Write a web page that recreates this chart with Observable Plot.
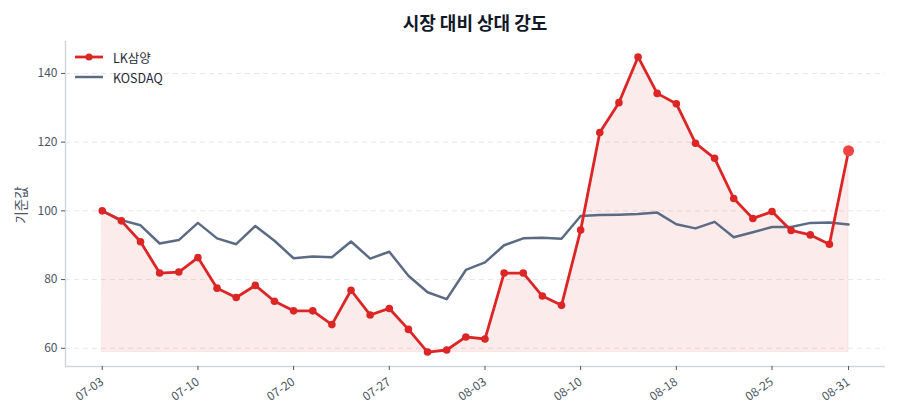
<!DOCTYPE html>
<html>
<head>
<meta charset="utf-8">
<script src="https://cdn.jsdelivr.net/npm/d3@7"></script>
<script src="https://cdn.jsdelivr.net/npm/@observablehq/plot@0.6"></script>
<style>
  body { margin: 0; background: #fff; font-family: "Noto Sans CJK KR", "Noto Sans", sans-serif; }
  #wrap { position: relative; width: 900px; height: 420px; }
  #title { position: absolute; left: 65px; width: 820px; top: 0; height: 40px; line-height: 44px; text-align: center; font-size: 18px; font-weight: 700; color: #111827; }
  #chart { position: absolute; left: 0; top: 40px; }
  #chart svg text { font-size: 12px !important; }
  #legend { position: absolute; left: 75px; top: 47px; font-size: 12.5px; color: #1f2937; }
  .item { display: flex; align-items: center; height: 20px; }
  .item svg { margin-right: 10px; }
  #ylabel { position: absolute; left: 20px; top: 205px; transform: translate(-50%, -50%) rotate(-90deg); font-size: 13.5px; color: #4b5563; white-space: nowrap; }
</style>
</head>
<body>
<div id="wrap">
  <div id="title">시장 대비 상대 강도</div>
  <div id="chart"></div>
  <div id="ylabel">기준값</div>
  <div id="legend">
    <div class="item"><svg width="28" height="10"><line x1="0" y1="5" x2="28" y2="5" stroke="#dc2626" stroke-width="2.8"/><circle cx="14" cy="5" r="3.6" fill="#dc2626"/></svg>LK삼양</div>
    <div class="item"><svg width="28" height="10"><line x1="0" y1="5" x2="28" y2="5" stroke="#5b6b84" stroke-width="2.5"/></svg>KOSDAQ</div>
  </div>
</div>
<script>
const dates = ["07-03","07-04","07-05","07-06","07-07","07-10","07-11","07-12","07-13","07-14",
  "07-20","07-21","07-24","07-25","07-26","07-27","07-28","07-31","08-01","08-02",
  "08-03","08-04","08-07","08-08","08-09","08-10","08-11","08-14","08-16","08-17",
  "08-18","08-21","08-22","08-23","08-24","08-25","08-28","08-29","08-30","08-31"];
const stockName = "LK삼양";
const indexName = "KOSDAQ";
const stockValues = [100, 97.1, 91.0, 81.9, 82.2, 86.4, 77.5, 74.8, 78.3, 73.7,
  70.9, 70.9, 66.9, 76.9, 69.7, 71.6, 65.5, 58.9, 59.5, 63.3,
  62.7, 81.9, 81.9, 75.2, 72.5, 94.4, 122.8, 131.5, 144.8, 134.2,
  131.2, 119.7, 115.3, 103.6, 97.8, 99.8, 94.3, 93.0, 90.3, 117.5];
const indexValues = [100, 97.3, 95.8, 90.5, 91.5, 96.5, 92.0, 90.3, 95.6, 91.3,
  86.2, 86.7, 86.5, 91.1, 86.1, 88.1, 81.1, 76.3, 74.3, 82.8,
  85.0, 90.0, 92.0, 92.2, 91.9, 98.5, 98.8, 98.9, 99.1, 99.5,
  96.1, 94.9, 96.8, 92.3, 93.8, 95.3, 95.3, 96.5, 96.6, 96.0];
const tickIdx = [0, 5, 10, 15, 20, 25, 30, 35, 39];
const yTicks = [60, 80, 100, 120, 140];

const stock = stockValues.map((v, i) => ({i, date: dates[i], v}));
const kosdaq = indexValues.map((v, i) => ({i, date: dates[i], v}));
const base = d3.min(stockValues);
const last = stock[stock.length - 1];

const xDomain = [-1.92, dates.length - 1 + 1.93];
const yDomain = [54.7, 149.3];

const chart = Plot.plot({
  width: 900,
  height: 380,
  marginLeft: 65,
  marginRight: 15,
  marginTop: 1,
  marginBottom: 54,
  style: {fontFamily: '"Noto Sans CJK KR", "Noto Sans", sans-serif', fontSize: "12px", color: "#4b5563", background: "#fff"},
  x: {type: "linear", domain: xDomain},
  y: {domain: yDomain},
  marks: [
    Plot.gridY(yTicks, {stroke: "#e5e7eb", strokeOpacity: 1, strokeDasharray: "5,4", strokeWidth: 1}),
    Plot.areaY(stock, {x: "i", y1: base, y2: "v", fill: "#dc2626", fillOpacity: 0.09, stroke: "#dc2626", strokeOpacity: 0.08}),
    Plot.ruleX([xDomain[0]], {stroke: "#d1d5db", strokeWidth: 1.5}),
    Plot.ruleY([yDomain[0]], {stroke: "#d1d5db", strokeWidth: 1.5}),
    Plot.axisY({ticks: yTicks, tickSize: 4, tickPadding: 4, color: "#4b5563", label: null}),
    Plot.axisX({ticks: tickIdx, tickFormat: (d) => dates[d], tickSize: 4, tickPadding: 10, tickRotate: -35,
      color: "#4b5563", label: null}),
    Plot.line(kosdaq, {x: "i", y: "v", stroke: "#5b6b84", strokeWidth: 2.5}),
    Plot.line(stock, {x: "i", y: "v", stroke: "#dc2626", strokeWidth: 2.8}),
    Plot.dot(stock.slice(0, -1), {x: "i", y: "v", r: 3.8, fill: "#dc2626"}),
    Plot.dot([last], {x: "i", y: "v", r: 5.5, fill: "#ef4444"})
  ]
});
document.getElementById("chart").appendChild(chart);
</script>
</body>
</html>
